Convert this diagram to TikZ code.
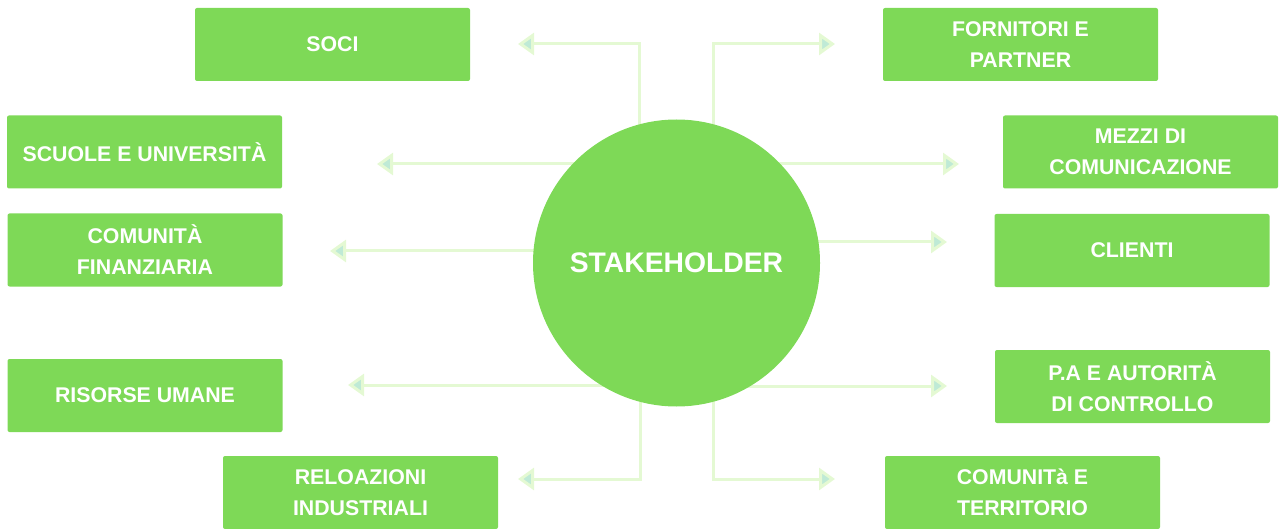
\documentclass[tikz,border=0pt]{standalone}
\usepackage{fontspec}
\setmainfont{Liberation Sans}
\usetikzlibrary{arrows.meta,backgrounds}
\definecolor{boxgreen}{HTML}{7ED957}
\definecolor{linegreen}{HTML}{E4F9D3}
\definecolor{arrfill}{HTML}{BFEAD6}
\begin{document}
\begin{tikzpicture}[x=1pt,y=-1pt,
  stakebox/.style={fill=boxgreen, rounded corners=2pt, minimum width=275pt, minimum height=73pt,
    inner sep=0pt, text=white, align=center, font=\fontsize{21.3}{31}\selectfont\bfseries},
  hub/.style={circle, fill=boxgreen, minimum size=287pt, inner sep=0pt, text=white,
    font=\fontsize{28.3}{30}\selectfont\bfseries},
  conn/.style={draw=linegreen, line width=3pt,
    -{Triangle[length=16pt,width=22pt,fill=arrfill,line width=3pt]}}]
\useasboundingbox (0,0) rectangle (1279,529);
% hub
\node[hub] (c) at (676.5,263) {STAKEHOLDER};
% boxes
\node[stakebox] (soci) at (332.5,44.5) {SOCI};
\node[stakebox] (forn) at (1020.5,44.5) {FORNITORI E\\PARTNER};
\node[stakebox] (scuole) at (144.5,152) {SCUOLE E UNIVERSITÀ};
\node[stakebox] (comfin) at (145,250) {COMUNITÀ\\FINANZIARIA};
\node[stakebox] (risorse) at (145,395.5) {RISORSE UMANE};
\node[stakebox] (relaz) at (360.5,492.5) {RELOAZIONI\\INDUSTRIALI};
\node[stakebox] (mezzi) at (1140.5,152) {MEZZI DI\\COMUNICAZIONE};
\node[stakebox] (clienti) at (1132,250.5) {CLIENTI};
\node[stakebox] (pa) at (1132.5,386.5) {P.A E AUTORITÀ\\DI CONTROLLO};
\node[stakebox] (terr) at (1022.5,492.5) {COMUNITà E\\TERRITORIO};
% connector end points
\coordinate (kSoci) at (639.5,44);
\coordinate (tSoci) at (518,44);
\coordinate (kForn) at (713.5,44);
\coordinate (tForn) at (835,44);
\coordinate (tScuole) at (377,164);
\coordinate (tComfin) at (330,251);
\coordinate (tRisorse) at (348,385);
\coordinate (kRelaz) at (640,479);
\coordinate (tRelaz) at (518,479);
\coordinate (tMezzi) at (959,164);
\coordinate (tClienti) at (947,242);
\coordinate (tPa) at (947,386);
\coordinate (kTerr) at (713.5,479);
\coordinate (tTerr) at (835,479);
\begin{scope}[on background layer]
\draw[conn] (c.center -| kSoci) -- (kSoci) -- (tSoci);
\draw[conn] (c.center -| kForn) -- (kForn) -- (tForn);
\draw[conn] (c.center |- tScuole) -- (tScuole);
\draw[conn] (c.center |- tComfin) -- (tComfin);
\draw[conn] (c.center |- tRisorse) -- (tRisorse);
\draw[conn] (c.center -| kRelaz) -- (kRelaz) -- (tRelaz);
\draw[conn] (c.center |- tMezzi) -- (tMezzi);
\draw[conn] (c.center |- tClienti) -- (tClienti);
\draw[conn] (c.center |- tPa) -- (tPa);
\draw[conn] (c.center -| kTerr) -- (kTerr) -- (tTerr);
\end{scope}
\end{tikzpicture}
\end{document}
